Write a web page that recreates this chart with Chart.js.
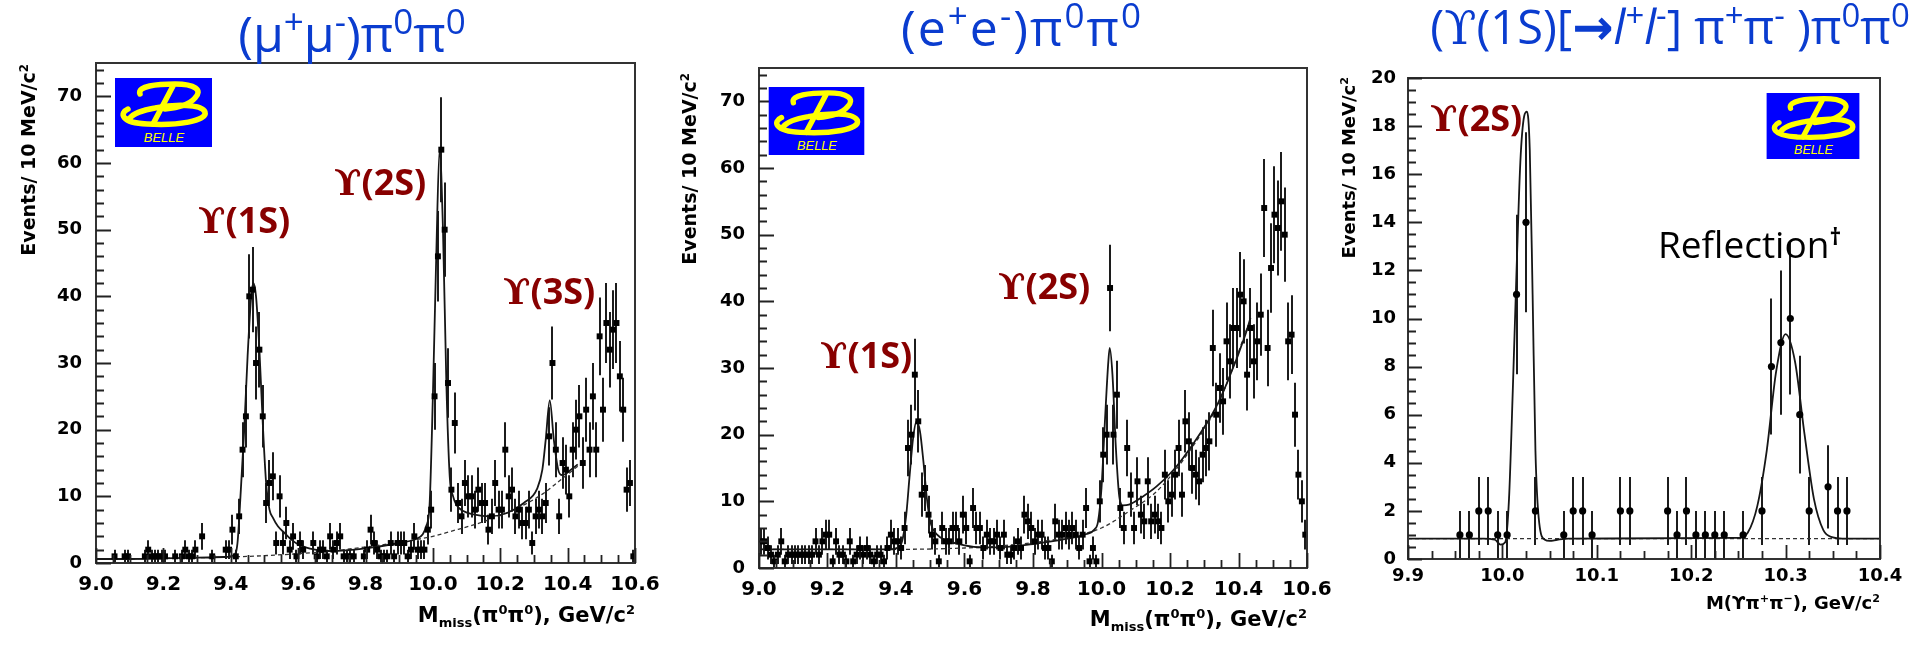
<!DOCTYPE html>
<html>
<head>
<meta charset="utf-8">
<script src="https://cdn.jsdelivr.net/npm/chart.js@4.4.0/dist/chart.umd.min.js"></script>
<style>
  body { margin: 0; width: 1923px; height: 651px; overflow: hidden; position: relative; background: #fff; }
  canvas { position: absolute; left: 0; top: 0; }
  .t { position: absolute; white-space: nowrap; line-height: 1; }
  .t sup, .t sub { font-size: 62%; line-height: 0; }
  .title { color: #0a3ccf; font-family: "Open Sans", sans-serif; transform: translateX(-50%); }
  .title sup { font-size: 70%; }
  .title .arr { font-family: "DejaVu Sans", sans-serif; font-weight: bold; font-size: 105%; }
  .ups { color: #880000; font-family: "Open Sans", sans-serif; font-weight: bold; font-size: 36px; }
  .ups .u, .title .u { font-family: "DejaVu Serif", serif; }
  .note { color: #000; font-family: "Open Sans", sans-serif; font-size: 37px; }
  .axt { font-family: "DejaVu Sans", sans-serif; font-weight: bold; color: #000; }
  .ytitle { width: 300px; text-align: right; transform-origin: 0 0; transform: rotate(-90deg); }
  .logo { position: absolute; }
</style>
</head>
<body>
<canvas id="cMuMu" width="1923" height="651"></canvas>
<canvas id="cEE" width="1923" height="651"></canvas>
<canvas id="cUps" width="1923" height="651"></canvas>

<div class="t title" style="left:352px; top:8px; font-size:50px">(μ<sup>+</sup>μ<sup>-</sup>)π<sup>0</sup>π<sup>0</sup></div>
<div class="t title" style="left:1022px; top:2px; font-size:50px; letter-spacing:2px">(e<sup>+</sup>e<sup>-</sup>)π<sup>0</sup>π<sup>0</sup></div>
<div class="t title" style="left:1670px; top:3px; font-size:47px">(<span class="u">ϒ</span>(1S)[<span class="arr">→</span><i>l</i><sup>+</sup><i>l</i><sup>-</sup>] π<sup>+</sup>π<sup>-</sup> )π<sup>0</sup>π<sup>0</sup></div>

<div class="t ups" style="left:198px; top:202px"><span class="u">ϒ</span>(1S)</div>
<div class="t ups" style="left:334px; top:164px"><span class="u">ϒ</span>(2S)</div>
<div class="t ups" style="left:503px; top:273px"><span class="u">ϒ</span>(3S)</div>
<div class="t ups" style="left:820px; top:337px"><span class="u">ϒ</span>(1S)</div>
<div class="t ups" style="left:998px; top:268px"><span class="u">ϒ</span>(2S)</div>
<div class="t ups" style="left:1430px; top:100px"><span class="u">ϒ</span>(2S)</div>
<div class="t note" style="left:1658px; top:225px">Reflection<sup><b>†</b></sup></div>

<div class="t axt ytitle" style="left:19px; top:364px; font-size:19px">Events/ 10 MeV/c<sup>2</sup></div>
<div class="t axt ytitle" style="left:680px; top:373px; font-size:19px">Events/ 10 MeV/c<sup>2</sup></div>
<div class="t axt ytitle" style="left:1340px; top:377px; font-size:18px">Events/ 10 MeV/c<sup>2</sup></div>

<div class="t axt" style="right:1288px; top:605px; font-size:21px">M<sub>miss</sub>(π<sup>0</sup>π<sup>0</sup>), GeV/c<sup>2</sup></div>
<div class="t axt" style="right:616px; top:609px; font-size:21px">M<sub>miss</sub>(π<sup>0</sup>π<sup>0</sup>), GeV/c<sup>2</sup></div>
<div class="t axt" style="right:43px; top:594px; font-size:18px">M(ϒπ<sup>+</sup>π<sup>−</sup>), GeV/c<sup>2</sup></div>

<svg class="logo" style="left:115px; top:78px" width="97" height="69" viewBox="0 0 97 69"><use href="#belle"/></svg>
<svg class="logo" style="left:768px; top:87px" width="97" height="68" viewBox="0 0 97 69"><use href="#belle"/></svg>
<svg class="logo" style="left:1765px; top:93px" width="96" height="66" viewBox="0 0 97 69"><use href="#belle"/></svg>

<svg width="0" height="0" style="position:absolute">
  <defs>
    <g id="belle">
      <rect width="97" height="69" fill="#0000ff"/>
      <g fill="none" stroke="#ffff00" stroke-width="5.5" stroke-linecap="round">
        <path d="M25 16 C22 8, 42 6, 60 6 C80 6, 88 12, 80 20 C74 27, 62 30, 50 31"/>
        <path d="M58 8 L38 46"/>
        <path d="M13 31 C4 35, 6 45, 32 46 C62 48, 93 43, 90 34 C87 26, 60 26, 40 30 C28 32, 18 36, 15 40"/>
      </g>
      <text x="49" y="64" text-anchor="middle" font-family="Liberation Sans" font-style="italic" font-size="13" fill="#ffff00">BELLE</text>
    </g>
  </defs>
</svg>

<script>
// Histogram binning: 10 MeV bins
const massLo = 9.0;
const massBin = 0.01;
const upsLo = 9.9;

// (mu+mu-) pi0 pi0 : events per bin, 9.00 - 10.60 GeV (null = empty bin)
const countsMuMu = [
  null, null, null, null, null, 1, null, null, 1, 1,
  null, null, null, null, 1, 2, 1, 1, 1, 1,
  1, null, null, 1, null, 1, 2, 1, 1, 2,
  null, 4, null, null, 1, null, null, null, 2, 2,
  5, 1, 7, 17, 22, 40, 41, 30, 32, 22,
  9, 12, 13, 3, 10, 3, 6, 2, 4, 1,
  3, 2, null, null, 3, 1, 2, 2, 1, 4,
  2, 3, 4, 1, 1, 1, 1, null, null, 1,
  2, 5, 3, 2, 1, 1, 1, 3, 1, 3,
  3, 3, 1, 2, 4, 2, 2, 2, 5, 8,
  25, 46, 62, 50, 27, 11, 21, 9, 7, 12,
  10, 10, 8, 11, 9, 9, 5, 7, 12, 8,
  8, 17, 10, 11, 7, 8, 6, 6, 8, 3,
  7, 8, 7, 9, 19, 30, 17, 7, 15, 14,
  10, 17, 20, 22, 15, 23, 17, 25, 17, 34,
  23, 36, 32, 35, 36, 28, 23, 11, 12, 1
];

// (e+e-) pi0 pi0 : events per bin, 9.00 - 10.60 GeV
const countsEE = [
  4, 4, 3, 2, 1, 2, 4, 1, 2, 2,
  2, 2, 2, 2, 2, 2, 4, 2, 4, 5,
  5, 1, 4, 2, 2, 1, 4, 1, 2, 3,
  2, 3, 2, 1, 2, 2, 1, 3, 5, 4,
  4, 3, 6, 18, 20, 29, 22, 11, 12, 8,
  5, 4, 1, 6, 4, 4, 6, 6, 4, 8,
  6, 1, 9, 6, 6, 3, 5, 4, 4, 5,
  3, 5, 2, 2, 3, 4, 3, 8, 7, 6,
  4, 5, 5, 3, 3, 1, 7, 5, 5, 6,
  5, 6, 5, 3, 5, 9, 1, 3, 1, 10,
  17, 20, 42, 20, 26, 9, 6, 18, 11, 6,
  13, 8, 7, 13, 7, 8, 7, 6, 14, 10,
  11, 14, 18, 11, 22, 19, 15, 14, 13, 17,
  18, 19, 33, 23, 27, 25, 34, 31, 36, 36,
  41, 40, 29, 36, 31, 34, 38, 54, 33, 45,
  53, 51, 55, 50, 34, 35, 23, 14, 10, 5
];

// (Y(1S) pi+ pi-) pi0 pi0 : events per bin, 9.90 - 10.40 GeV
const countsUps = [
  null, null, null, null, null, 1, 1, 2, 2, 1,
  1, 11, 14, 2, null, null, 1, 2, 2, 1,
  null, null, 2, 2, null, null, null, 2, 1, 2,
  1, 1, 1, 1, null, 1, null, 2, 8, 9,
  10, 6, 2, null, 3, 2, 2, null, null, null
];

// fit curves (signal + background) and background-only curves
const fitMuMuX = [9.00, 9.10, 9.20, 9.30, 9.38, 9.41, 9.42, 9.43, 9.44, 9.45, 9.46, 9.467, 9.475, 9.485, 9.495, 9.505, 9.515, 9.525, 9.54, 9.56, 9.58, 9.60, 9.65, 9.70, 9.80, 9.90, 9.95, 9.97, 9.98, 9.99, 10.00, 10.01, 10.02, 10.03, 10.04, 10.05, 10.06, 10.07, 10.09, 10.12, 10.17, 10.22, 10.27, 10.31, 10.325, 10.335, 10.347, 10.359, 10.372, 10.382, 10.395, 10.41, 10.43];
const fitMuMuY = [0.6, 0.6, 0.7, 0.8, 0.9, 1.2, 3, 11, 20, 31, 39.5, 42, 40, 32, 21, 12, 8, 6.8, 5.5, 4.5, 3.5, 2.8, 2.0, 1.8, 2.2, 3.0, 3.6, 4.3, 5.5, 8.5, 25, 46, 62, 50, 27, 13, 10, 8.7, 7.8, 7.3, 7.0, 7.5, 9.0, 11.2, 14, 18.5, 24.4, 18.5, 14, 13.2, 13.4, 14, 14.8];
const bkgMuMuX = [9.0, 9.2, 9.4, 9.5, 9.6, 9.7, 9.8, 9.9, 10.0, 10.05, 10.15, 10.25, 10.33, 10.38, 10.43];
const bkgMuMuY = [0.6, 0.7, 0.9, 1.1, 1.4, 1.8, 2.4, 3.1, 4.0, 4.7, 6.2, 8.2, 10.5, 12.5, 14.5];

const fitEEX = [9.00, 9.20, 9.38, 9.41, 9.42, 9.43, 9.44, 9.45, 9.46, 9.47, 9.48, 9.49, 9.50, 9.52, 9.55, 9.60, 9.65, 9.70, 9.80, 9.90, 9.95, 9.98, 9.99, 10.00, 10.01, 10.02, 10.024, 10.032, 10.042, 10.052, 10.062, 10.08, 10.12, 10.16, 10.21, 10.27, 10.33, 10.37, 10.42, 10.435];
const fitEEY = [2.8, 2.8, 2.8, 3.2, 4.5, 8, 14, 19.5, 22, 20.5, 16, 10.5, 7, 5, 4.1, 3.4, 3.1, 3.1, 3.6, 4.4, 5.0, 5.8, 7, 12, 22, 31, 33, 29, 18, 10.7, 9.4, 9.5, 10.7, 12.2, 14.7, 18.8, 23.7, 28.2, 35, 37.5];
const bkgEEX = [9.00, 9.40, 9.60, 9.70, 9.80, 9.90, 10.00, 10.08, 10.155, 10.21, 10.27, 10.33, 10.37, 10.425];
const bkgEEY = [2.8, 2.8, 3.0, 3.3, 3.8, 4.6, 6.0, 8.5, 11.2, 14.3, 18.5, 23.5, 28.2, 36];

const fitUpsX = [9.90, 9.98, 9.992, 9.998, 10.003, 10.007, 10.011, 10.015, 10.019, 10.023, 10.026, 10.029, 10.032, 10.035, 10.039, 10.045, 10.05, 10.058, 10.07, 10.25, 10.26, 10.27, 10.28, 10.29, 10.30, 10.31, 10.32, 10.33, 10.34, 10.35, 10.36, 10.40];
const fitUpsY = [0.85, 0.85, 0.8, 0.6, 0.7, 2.5, 7, 12, 16.5, 18.4, 18.6, 17, 11, 4.5, 1.5, 0.8, 0.75, 0.8, 0.85, 0.88, 1.1, 2.2, 4.5, 7.8, 9.35, 8.2, 5.2, 2.5, 1.2, 0.9, 0.85, 0.85];
const bkgUpsX = [9.90, 10.40];
const bkgUpsY = [0.85, 0.85];

// axis ticks
const massTicks = [9.0, 9.2, 9.4, 9.6, 9.8, 10.0, 10.2, 10.4, 10.6];
const eventTicks = [0, 10, 20, 30, 40, 50, 60, 70];
const upsTicks = [9.9, 10.0, 10.1, 10.2, 10.3, 10.4];
const upsEventTicks = [0, 2, 4, 6, 8, 10, 12, 14, 16, 18, 20];

function histPoints(counts, lo, w) {
  const pts = [];
  counts.forEach((n, i) => {
    if (n !== null) pts.push({ x: lo + (i + 0.5) * w, y: n });
  });
  return pts;
}

function curve(xs, ys) {
  return xs.map((x, i) => ({ x: x, y: ys[i] }));
}

// ROOT-style frame: inward ticks, box, Poisson error bars
const rootFrame = {
  id: 'rootFrame',
  beforeDatasetsDraw(chart, args, opts) {
    const { ctx, chartArea: a, scales: { x, y } } = chart;
    ctx.save();
    ctx.beginPath();
    ctx.rect(a.left, a.top, a.width, a.height);
    ctx.clip();
    ctx.strokeStyle = '#1c1c1c';
    ctx.lineWidth = 2;
    ctx.beginPath();
    chart.data.datasets[0].data.forEach(p => {
      const err = Math.sqrt(p.y);
      const px = Math.round(x.getPixelForValue(p.x));
      ctx.moveTo(px, y.getPixelForValue(p.y - err));
      ctx.lineTo(px, y.getPixelForValue(p.y + err));
    });
    ctx.stroke();
    ctx.restore();
  },
  afterDraw(chart, args, opts) {
    const { ctx, chartArea: a, scales: { x, y } } = chart;
    ctx.save();
    ctx.strokeStyle = '#333';
    ctx.lineWidth = 2;
    ctx.strokeRect(a.left, a.top, a.width, a.height);

    ctx.lineWidth = 1.8;
    ctx.strokeStyle = '#222';
    ctx.beginPath();
    const ny = Math.floor((y.max - y.min) / opts.minorY + 1e-6);
    for (let k = 0; k <= ny; k++) {
      const v = y.min + k * opts.minorY;
      const major = Math.abs(v / opts.majorY - Math.round(v / opts.majorY)) < 1e-6;
      const py = Math.round(y.getPixelForValue(v)) + 0.5;
      ctx.moveTo(a.left, py);
      ctx.lineTo(a.left + (major ? opts.majorLen : opts.minorLen), py);
    }
    const nx = Math.floor((x.max - x.min) / opts.minorX + 1e-6);
    for (let k = 0; k <= nx; k++) {
      const v = x.min + k * opts.minorX;
      const major = Math.abs((v - x.min) / opts.majorX - Math.round((v - x.min) / opts.majorX)) < 1e-6;
      const px = Math.round(x.getPixelForValue(v)) + 0.5;
      ctx.moveTo(px, a.bottom);
      ctx.lineTo(px, a.bottom - (major ? opts.majorLen : opts.minorLen));
    }
    ctx.stroke();
    ctx.restore();
  }
};

const PAGE_W = 1923, PAGE_H = 651, Y_AXIS_W = 70, X_AXIS_H = 40;

function makePanel(canvasId, p) {
  return new Chart(document.getElementById(canvasId), {
    type: 'scatter',
    data: {
      datasets: [
        {
          data: histPoints(p.counts, p.lo, massBin),
          pointStyle: p.marker,
          pointRadius: p.markerRadius,
          backgroundColor: '#000',
          borderColor: '#000',
          borderWidth: 0
        },
        {
          type: 'line',
          data: curve(p.fitX, p.fitY),
          borderColor: '#161616',
          borderWidth: 1.8,
          pointRadius: 0,
          cubicInterpolationMode: 'monotone',
          fill: false
        },
        {
          type: 'line',
          data: curve(p.bkgX, p.bkgY),
          borderColor: '#333',
          borderWidth: 1.3,
          borderDash: [4, 3],
          pointRadius: 0,
          cubicInterpolationMode: 'monotone',
          fill: false
        }
      ]
    },
    options: {
      responsive: false,
      animation: false,
      events: [],
      layout: {
        padding: {
          left: p.box.left - Y_AXIS_W,
          top: p.box.top,
          right: PAGE_W - p.box.right,
          bottom: PAGE_H - p.box.bottom - X_AXIS_H
        }
      },
      plugins: {
        legend: { display: false },
        tooltip: { enabled: false },
        rootFrame: p.frame
      },
      scales: {
        x: {
          type: 'linear',
          min: p.xMin,
          max: p.xMax,
          afterFit: s => { s.height = X_AXIS_H; },
          afterBuildTicks: s => { s.ticks = p.xTicks.map(v => ({ value: v })); },
          grid: { display: false, drawTicks: false },
          border: { display: false },
          ticks: {
            font: { family: 'DejaVu Sans', weight: 'bold', size: p.xTickSize },
            color: '#000',
            padding: p.xPad,
            maxRotation: 0,
            autoSkip: false,
            callback: v => v.toFixed(1)
          }
        },
        y: {
          min: 0,
          max: p.yMax,
          afterFit: s => { s.width = Y_AXIS_W; },
          afterBuildTicks: s => { s.ticks = p.yTicks.map(v => ({ value: v })); },
          grid: { display: false, drawTicks: false },
          border: { display: false },
          ticks: {
            font: { family: 'DejaVu Sans', weight: 'bold', size: p.yTickSize },
            color: '#000',
            padding: p.yPad,
            autoSkip: false,
            callback: v => String(v)
          }
        }
      }
    },
    plugins: [rootFrame]
  });
}

makePanel('cMuMu', {
  box: { left: 96, top: 63, right: 635, bottom: 563 },
  counts: countsMuMu, lo: massLo,
  fitX: fitMuMuX, fitY: fitMuMuY, bkgX: bkgMuMuX, bkgY: bkgMuMuY,
  xMin: 9.0, xMax: 10.6, yMax: 75, xTicks: massTicks, yTicks: eventTicks,
  marker: 'rect', markerRadius: 4.2, xTickSize: 20, yTickSize: 18, xPad: 10, yPad: 14,
  frame: { minorX: 0.05, majorX: 0.2, minorY: 2, majorY: 10, majorLen: 15, minorLen: 8 }
});

makePanel('cEE', {
  box: { left: 759, top: 68, right: 1307, bottom: 568 },
  counts: countsEE, lo: massLo,
  fitX: fitEEX, fitY: fitEEY, bkgX: bkgEEX, bkgY: bkgEEY,
  xMin: 9.0, xMax: 10.6, yMax: 75, xTicks: massTicks, yTicks: eventTicks,
  marker: 'rect', markerRadius: 4.2, xTickSize: 20, yTickSize: 18, xPad: 10, yPad: 14,
  frame: { minorX: 0.05, majorX: 0.2, minorY: 2, majorY: 10, majorLen: 15, minorLen: 8 }
});

makePanel('cUps', {
  box: { left: 1408, top: 78, right: 1880, bottom: 559 },
  counts: countsUps, lo: upsLo,
  fitX: fitUpsX, fitY: fitUpsY, bkgX: bkgUpsX, bkgY: bkgUpsY,
  xMin: 9.9, xMax: 10.4, yMax: 20, xTicks: upsTicks, yTicks: upsEventTicks,
  marker: 'circle', markerRadius: 3.6, xTickSize: 18, yTickSize: 18, xPad: 7, yPad: 12,
  frame: { minorX: 0.025, majorX: 0.1, minorY: 0.5, majorY: 2, majorLen: 14, minorLen: 8 }
});
</script>
</body>
</html>
